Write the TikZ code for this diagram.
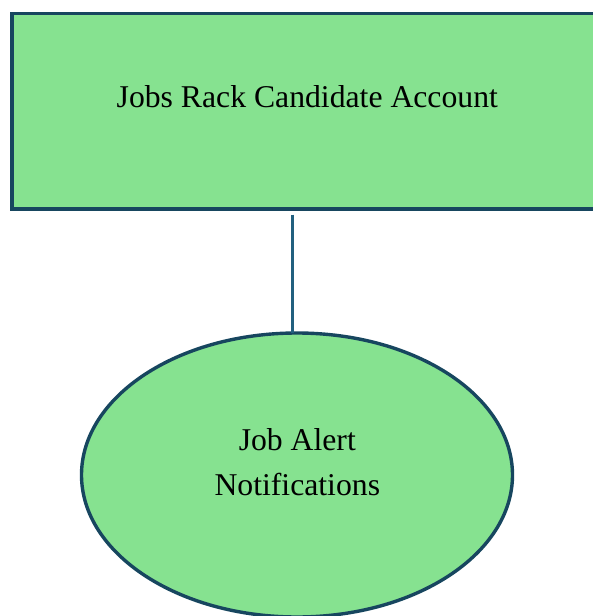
\documentclass[tikz,border=0pt]{standalone}
\usepackage{fontspec}
\setmainfont{Liberation Serif}
\usetikzlibrary{shapes.geometric,calc}
\definecolor{boxfill}{HTML}{86E290}
\definecolor{boxedge}{HTML}{17465F}
\definecolor{linkcol}{HTML}{22607F}
\tikzset{
  acctbox/.style={draw=boxedge, fill=boxfill, line width=3.4pt, rectangle, inner sep=0pt, outer sep=0pt, minimum width=591pt, minimum height=195.5pt},
  alertell/.style={draw=boxedge, fill=boxfill, line width=3.4pt, ellipse, inner sep=0pt, outer sep=0pt, minimum width=431pt, minimum height=284pt},
  lbl/.style={font=\fontsize{31.7}{45}\selectfont, text=black, align=center, inner sep=0pt},
  conn/.style={draw=linkcol, line width=3pt}
}
\begin{document}
\begin{tikzpicture}[x=1pt,y=-1pt]
\useasboundingbox (0,0) rectangle (593,616);
\clip (0,0) rectangle (593,616);
\node[acctbox] (acct) at (307.5,111.25) {};
\node[lbl, anchor=base] (acctlbl) at (307.3,107.3) {Jobs Rack Candidate Account};
\node[alertell] (ell) at (297,475) {};
\node[lbl, anchor=center] (elllbl) at (297.3,462.5) {Job Alert\\Notifications};
\coordinate (ctop) at ($(ell.north |- acct.south)+(-4.7,5.5)$);
\coordinate (cbot) at ($(ell.north)+(-4.7,0)$);
\draw[conn] (ctop) -- (cbot);
\end{tikzpicture}
\end{document}
